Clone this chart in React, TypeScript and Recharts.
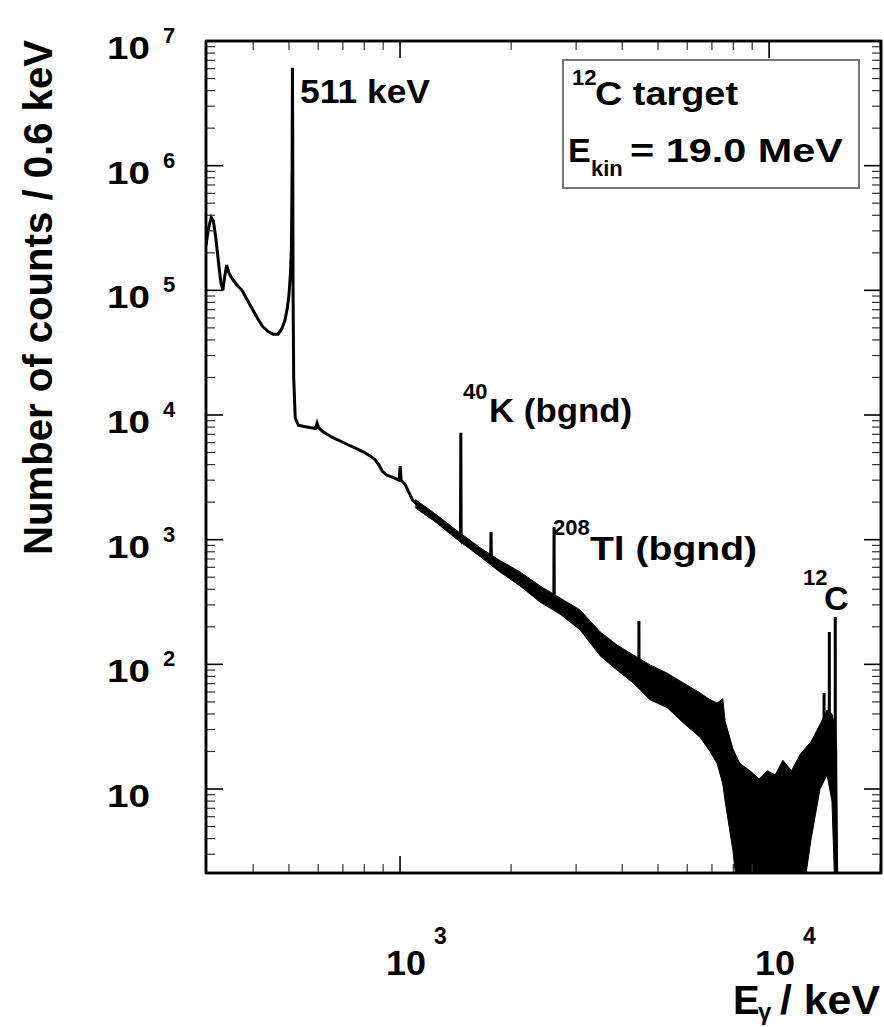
import { ComposedChart, Line, Area, XAxis, YAxis } from 'recharts'

const W = 884
const H = 1027
const PLOT = { left: 206, top: 41, right: 881, bottom: 873 }
const FONT = '"Liberation Sans", Arial, Helvetica, sans-serif'
// room reserved for each axis inside the margins
const AX_BOTTOM = 30
const AX_TOP = 20
const AX_LEFT = 60
const AX_RIGHT = 3

// gamma spectrum trace: energy (keV) and counts per 0.6 keV bin
const energy = [
  298, 303, 308, 312, 317, 322, 327, 331, 335, 339, 343, 350, 360, 373, 387, 400, 413, 425, 440, 453,
  467, 478, 488, 495, 500, 505, 508, 510, 511, 512, 513, 515, 520, 530, 550, 575, 590, 596, 602, 620,
  650, 680, 720, 760, 800, 830, 855, 875, 895, 920, 960, 995, 1001, 1007, 1030, 1060, 1084, 1120, 1160, 1206,
  1260, 1310, 1350, 1400, 1455, 1458, 1461, 1464, 1500, 1560, 1648, 1720, 1760, 1764, 1768, 1850, 1950, 2024, 2100, 2200,
  2300, 2395, 2500, 2610, 2614, 2618, 2750, 2900, 3075, 3300, 3485, 3700, 3871, 4100, 4300, 4436, 4439, 4442, 4757, 5291,
  5852, 6499, 7230, 7600, 7980, 8500, 9000, 10000, 11000, 12140, 13000, 13740, 14085, 14090, 14095, 14360, 14555, 14560, 14565, 14900,
  15105, 15110, 15115, 15300,
]
const counts = [
  2.3e5, 3.2e5, 3.85e5, 3.6e5, 2.6e5, 1.7e5, 1.15e5, 1.0e5, 1.3e5, 1.6e5, 1.4e5, 1.25e5, 1.12e5, 1.0e5, 8.2e4, 6.9e4, 5.8e4, 5.1e4, 4.65e4, 4.45e4,
  4.45e4, 4.9e4, 5.8e4, 7.2e4, 9.2e4, 1.4e5, 2.3e5, 1.0e6, 6.1e6, 1.5e6, 1.0e5, 2.0e4, 9500, 8300, 8100, 7900, 7800, 8600, 7900, 7300,
  6700, 6300, 5800, 5400, 5000, 4700, 4400, 4000, 3550, 3300, 3150, 3000, 3900, 3000, 2800, 2350, 2050, 1900, 1780, 1640,
  1450, 1340, 1240, 1130, 1010, 1000, 7200, 1000, 960, 880, 780, 720, 690, 1150, 690, 610, 545, 500, 460, 420,
  380, 350, 320, 295, 1265, 290, 260, 240, 225, 195, 150, 128, 115, 103, 95, 90, 223, 88, 72, 62,
  50, 40, 29, 20, 9, 6, 5, 5, 6, 8, 14, 18, 20, 59, 22, 25, 28, 182, 28, 30,
  28, 240, 15, 1,
]

// statistical-noise envelope of the spectrum above ~1.1 MeV
const bandEnergy = [
  1100, 1250, 1400, 1650, 1850, 2114, 2395, 2713, 3075, 3485, 3871, 4283, 4757, 5291, 5852, 6499, 6920, 7230, 7490, 7600,
  7980, 8330, 8880, 9400, 9880, 10400, 10900, 11500, 12140, 13000, 13740, 14360, 14800, 15150, 15250, 15300,
]
const bandLow = [
  1800, 1380, 1050, 730, 560, 426, 316, 253, 189, 117, 90, 71, 52, 45, 34, 26, 20, 16, 11, 8,
  3.2, 1, 1, 1, 1, 1, 1, 1, 1, 4, 10, 13, 8, 1, 1, 1,
]
const bandHigh = [
  2100, 1600, 1230, 860, 690, 551, 426, 341, 273, 182, 143, 119, 99, 85, 71, 59, 52, 49, 53, 35,
  21, 16, 14, 12, 14, 13, 17, 14, 19, 24, 33, 43, 40, 30, 20, 1,
]

const xMantissa = [1, 2, 3, 4, 5, 6, 7, 8, 9]
const xDecades = [100, 1000, 10000]
const yDecades = [1, 10, 100, 1000, 1e4, 1e5, 1e6]
const X_DOMAIN = [298, 20100]
const Y_DOMAIN = [2.12, 1e7]

const xTicks = xDecades
  .flatMap((d) => xMantissa.map((m) => m * d))
  .filter((v) => v > X_DOMAIN[0] + 5 && v < X_DOMAIN[1])
const yTicks = [...yDecades.flatMap((d) => xMantissa.map((m) => m * d)), 1e7].filter(
  (v) => v > Y_DOMAIN[0] && v <= Y_DOMAIN[1],
)

const lineData = energy.map((e, i) => ({ e, c: counts[i] }))
const bandData = bandEnergy.map((e, i) => ({ e, r: [bandLow[i], bandHigh[i]] }))

const isMajor = (v: number) => {
  const lg = Math.log10(v)
  return Math.abs(lg - Math.round(lg)) < 1e-6
}

const tickStroke = (major: boolean) => ({
  stroke: major ? '#000' : '#333',
  strokeWidth: major ? 1.6 : 1.2,
})

function XTickBottom(props: any) {
  const { x, payload } = props
  const v = payload.value
  const major = isMajor(v)
  const len = major ? 17 : 9
  const exp = Math.round(Math.log10(v))
  return (
    <g>
      <line x1={x} x2={x} y1={PLOT.bottom} y2={PLOT.bottom - len} {...tickStroke(major)} />
      {major && (
        <g fontFamily={FONT} fontWeight="bold" fill="#000">
          <text x={x - 14} y={975} fontSize={35} textLength={40} lengthAdjust="spacingAndGlyphs">10</text>
          <text x={x + 34} y={944} fontSize={23}>{exp}</text>
        </g>
      )}
    </g>
  )
}

function XTickTop(props: any) {
  const { x, payload } = props
  const major = isMajor(payload.value)
  const len = major ? 17 : 9
  return <line x1={x} x2={x} y1={PLOT.top} y2={PLOT.top + len} {...tickStroke(major)} />
}

function YTickLeft(props: any) {
  const { y, payload } = props
  const v = payload.value
  const major = isMajor(v)
  const len = major ? 17 : 9
  const exp = Math.round(Math.log10(v))
  return (
    <g>
      <line x1={PLOT.left} x2={PLOT.left + len} y1={y} y2={y} {...tickStroke(major)} />
      {major && (
        <g fontFamily={FONT} fontWeight="bold" fill="#000">
          <text x={107} y={y + 18} fontSize={32} textLength={43} lengthAdjust="spacingAndGlyphs">10</text>
          {exp > 1 && <text x={163} y={y + 2} fontSize={22}>{exp}</text>}
        </g>
      )}
    </g>
  )
}

function YTickRight(props: any) {
  const { y, payload } = props
  const major = isMajor(payload.value)
  const len = major ? 17 : 9
  return <line x1={PLOT.right} x2={PLOT.right - len} y1={y} y2={y} {...tickStroke(major)} />
}

function Labels() {
  return (
    <svg width={W} height={H} style={{ position: 'absolute', left: 0, top: 0, pointerEvents: 'none' }}>
      {/* plot frame */}
      <rect
        x={PLOT.left}
        y={PLOT.top}
        width={PLOT.right - PLOT.left}
        height={PLOT.bottom - PLOT.top}
        fill="none"
        stroke="#000"
        strokeWidth={2.5}
      />
      <g fontFamily={FONT} fontWeight="bold" fill="#000">
        {/* axis titles */}
        <text transform="translate(52,555) rotate(-90)" fontSize={40} textLength={515} lengthAdjust="spacingAndGlyphs">
          Number of counts / 0.6 keV
        </text>
        <text x={733} y={1014} fontSize={40}>E</text>
        <text x={758} y={1020} fontSize={24}>γ</text>
        <text x={780} y={1014} fontSize={40} textLength={100} lengthAdjust="spacingAndGlyphs">/ keV</text>

        {/* peak annotations */}
        <text x={300} y={103} fontSize={34} textLength={130} lengthAdjust="spacingAndGlyphs">511 keV</text>
        <text x={463} y={399} fontSize={22}>40</text>
        <text x={489} y={422} fontSize={34} textLength={143} lengthAdjust="spacingAndGlyphs">K (bgnd)</text>
        <text x={553} y={535} fontSize={22}>208</text>
        <text x={590} y={560} fontSize={34} textLength={167} lengthAdjust="spacingAndGlyphs">Tl (bgnd)</text>
        <text x={803} y={585} fontSize={22}>12</text>
        <text x={824} y={610} fontSize={34}>C</text>
      </g>

      {/* info box */}
      <rect x={563} y={60} width={296} height={128} fill="#fff" stroke="#777" strokeWidth={2} />
      <g fontFamily={FONT} fontWeight="bold" fill="#000">
        <text x={572} y={85} fontSize={22}>12</text>
        <text x={595} y={105} fontSize={34} textLength={143} lengthAdjust="spacingAndGlyphs">C target</text>
        <text x={568} y={162} fontSize={34}>E</text>
        <text x={591} y={176} fontSize={22}>kin</text>
        <text x={630} y={162} fontSize={34} textLength={213} lengthAdjust="spacingAndGlyphs">= 19.0 MeV</text>
      </g>
    </svg>
  )
}

export default function App() {
  return (
    <div style={{ position: 'absolute', left: 0, top: 0, width: W, height: H, background: '#fff' }}>
      <ComposedChart
        width={W}
        height={H}
        margin={{
          top: PLOT.top - AX_TOP,
          left: PLOT.left - AX_LEFT,
          right: W - PLOT.right - AX_RIGHT,
          bottom: H - PLOT.bottom - AX_BOTTOM,
        }}
      >
        <XAxis
          dataKey="e"
          type="number"
          scale="log"
          domain={X_DOMAIN}
          allowDataOverflow
          ticks={xTicks}
          interval={0}
          height={AX_BOTTOM}
          tickLine={false}
          tick={<XTickBottom />}
          axisLine={{ stroke: '#000', strokeWidth: 2.5 }}
        />
        <XAxis
          xAxisId="top"
          orientation="top"
          dataKey="e"
          type="number"
          scale="log"
          domain={X_DOMAIN}
          allowDataOverflow
          ticks={xTicks}
          interval={0}
          height={AX_TOP}
          tickLine={false}
          tick={<XTickTop />}
          axisLine={{ stroke: '#000', strokeWidth: 2.5 }}
        />
        <YAxis
          type="number"
          scale="log"
          domain={Y_DOMAIN}
          allowDataOverflow
          ticks={yTicks}
          interval={0}
          width={AX_LEFT}
          tickLine={false}
          tick={<YTickLeft />}
          axisLine={{ stroke: '#000', strokeWidth: 2.5 }}
        />
        <YAxis
          yAxisId="right"
          orientation="right"
          type="number"
          scale="log"
          domain={Y_DOMAIN}
          allowDataOverflow
          ticks={yTicks}
          interval={0}
          width={AX_RIGHT}
          tickLine={false}
          tick={<YTickRight />}
          axisLine={{ stroke: '#000', strokeWidth: 2.5 }}
        />
        <Area
          data={bandData}
          dataKey="r"
          type="linear"
          stroke="#000"
          strokeWidth={1}
          fill="#000"
          fillOpacity={1}
          isAnimationActive={false}
        />
        <Line
          data={lineData}
          dataKey="c"
          type="linear"
          stroke="#000"
          strokeWidth={3}
          dot={false}
          isAnimationActive={false}
        />
        <Line
          xAxisId="top"
          yAxisId="right"
          data={lineData}
          dataKey="c"
          stroke="none"
          dot={false}
          isAnimationActive={false}
        />
      </ComposedChart>
      <Labels />
    </div>
  )
}
